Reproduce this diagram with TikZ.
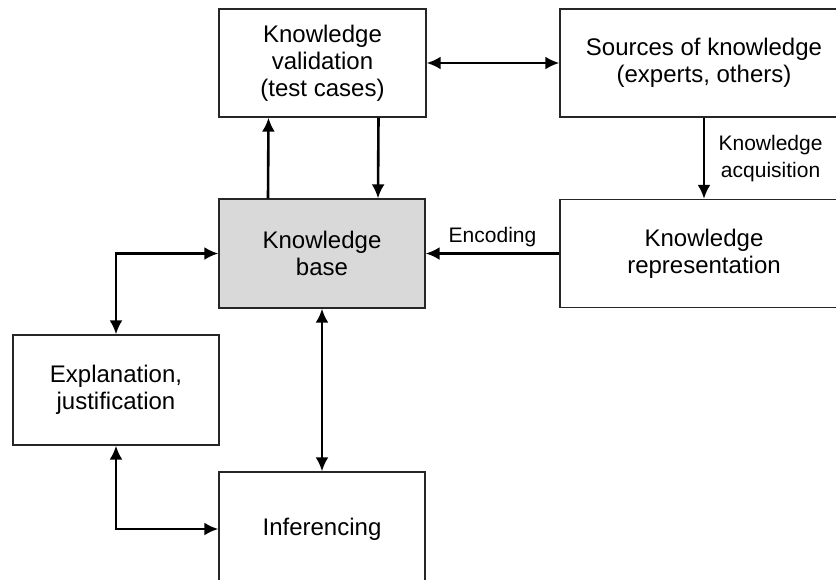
\documentclass[tikz,border=0pt]{standalone}
\usepackage{fontspec}
\setmainfont{Liberation Sans}
\usetikzlibrary{arrows.meta}
\definecolor{kbgray}{RGB}{217,217,217}
\begin{document}
\begin{tikzpicture}[x=1pt,y=-1pt,
  box/.style={draw=black!85, line width=1.3pt, align=center, inner sep=0pt,
    font=\fontsize{24}{27}\selectfont},
  arr/.style={line width=2.6pt, arrows={-Latex[length=14pt,width=13pt]}},
  both/.style={line width=2.6pt, arrows={Latex[length=14pt,width=13pt]-Latex[length=14pt,width=13pt]}},
  lbl/.style={font=\fontsize{21}{27}\selectfont, align=center}]
\useasboundingbox (0,0) rectangle (836,579);

\node[box, minimum width=207pt, minimum height=108pt] (valid) at (322.5,63) {Knowledge\\validation\\(test cases)};
\node[box, minimum width=288pt, minimum height=108pt] (src) at (704,63) {Sources of knowledge\\(experts, others)};
\node[box, minimum width=288pt, minimum height=108pt] (repr) at (704,253.5) {Knowledge\\representation};
\node[box, fill=kbgray, minimum width=206pt, minimum height=109pt] (kb) at (322,253.5) {Knowledge\\base};
\node[box, minimum width=206pt, minimum height=110pt] (expl) at (116,390) {Explanation,\\justification};
\node[box, minimum width=206pt, minimum height=114pt] (inf) at (322,529) {Inferencing};

\draw[both] (valid) -- (src);
\draw[arr] ([xshift=-54pt]kb.north) -- ([xshift=-54pt]valid.south);
\draw[arr] ([xshift=56pt]valid.south) -- ([xshift=56pt]kb.north);
\draw[arr] (src) -- (repr) node[lbl, midway, right=10pt] {Knowledge\\acquisition};
\draw[arr] (repr) -- (kb) node[lbl, midway, above=2pt] {Encoding};
\draw[both] (kb.west) -| (expl.north);
\draw[both] (kb) -- (inf);
\draw[both] (expl.south) |- (inf.west);
\end{tikzpicture}
\end{document}
